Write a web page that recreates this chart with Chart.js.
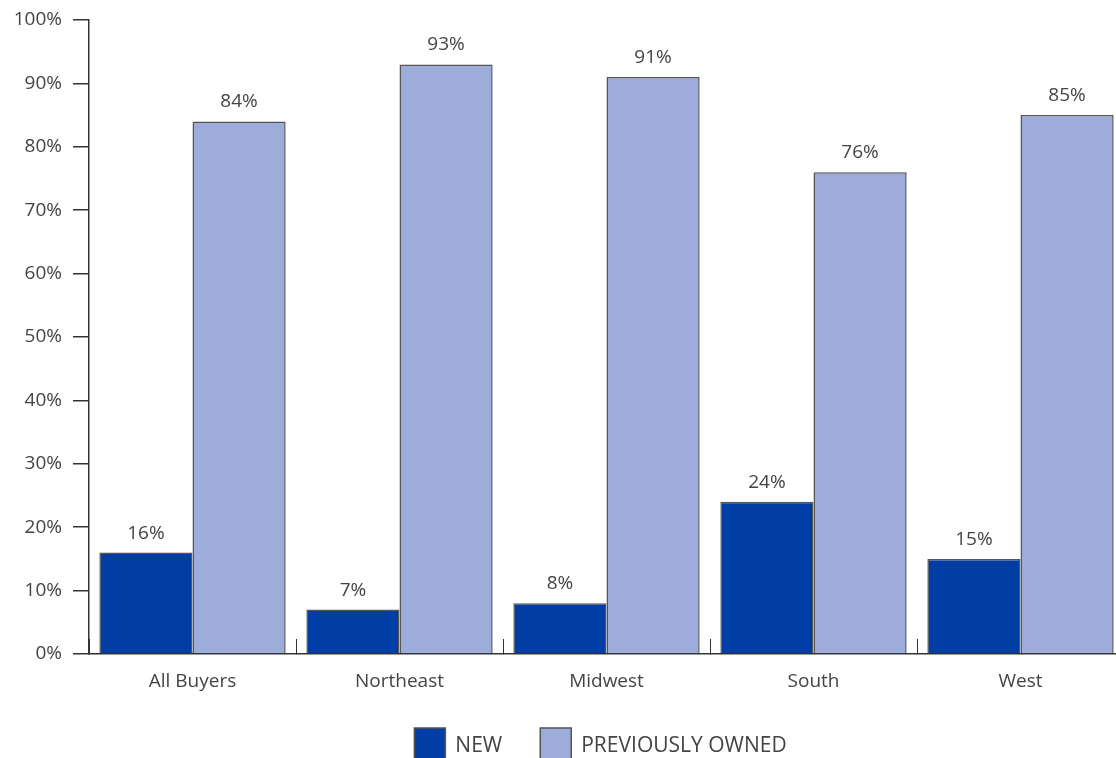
<!DOCTYPE html>
<html>
<head>
<meta charset="utf-8">
<title>New vs previously owned homes by region</title>
<script src="https://cdn.jsdelivr.net/npm/chart.js@4/dist/chart.umd.min.js"></script>
<style>
    html, body { margin: 0; padding: 0; background: #fff; overflow: hidden; }
    #wrap { width: 1130px; height: 758px; }
</style>
</head>
<body>
<div id="wrap"><canvas id="homes" width="1130" height="758"></canvas></div>
<script>
// --- Datos ---
const regions = ['All Buyers', 'Northeast', 'Midwest', 'South', 'West'];
const newHomes = [16, 7, 8, 24, 15];
const previouslyOwned = [84, 93, 91, 76, 85];
const yTicks = [0, 10, 20, 30, 40, 50, 60, 70, 80, 90, 100];

const FONT = '"Open Sans", "DejaVu Sans", sans-serif';
const TEXT = '#444';
const EDGE = '#555';

// etiquetas de valor encima de cada barra
const valueLabels = {
    id: 'valueLabels',
    afterDatasetsDraw(chart) {
        const ctx = chart.ctx;
        ctx.save();
        ctx.font = '19px ' + FONT;
        ctx.fillStyle = TEXT;
        ctx.textAlign = 'center';
        ctx.textBaseline = 'alphabetic';
        chart.data.datasets.forEach((ds, i) => {
            chart.getDatasetMeta(i).data.forEach((bar, j) => {
                ctx.fillText(ds.data[j] + '%', bar.x, bar.y - 14);
            });
        });
        ctx.restore();
    }
};

// leyenda abajo, centrada en el área del gráfico
const bottomLegend = {
    id: 'bottomLegend',
    afterDraw(chart) {
        const ctx = chart.ctx;
        const box = 31, gapText = 10, gapItem = 38, top = 728;
        ctx.save();
        ctx.font = '21px ' + FONT;
        const items = chart.data.datasets.map(ds => ({
            ds, w: box + gapText + ctx.measureText(ds.label).width
        }));
        const total = items.reduce((s, it) => s + it.w, 0) + gapItem * (items.length - 1);
        let x = (chart.chartArea.left + chart.chartArea.right) / 2 - total / 2 - 6;
        items.forEach(it => {
            ctx.fillStyle = it.ds.backgroundColor;
            ctx.fillRect(x, top, box, box);
            ctx.strokeStyle = EDGE;
            ctx.lineWidth = 1.5;
            ctx.strokeRect(x, top, box, box);
            ctx.fillStyle = TEXT;
            ctx.textBaseline = 'alphabetic';
            ctx.textAlign = 'left';
            ctx.fillText(it.ds.label, x + box + gapText, 752);
            x += it.w + gapItem;
        });
        ctx.restore();
    }
};

new Chart(document.getElementById('homes'), {
    type: 'bar',
    data: {
        labels: regions,
        datasets: [
            {
                label: 'NEW',
                data: newHomes,
                backgroundColor: '#003DA5',
                borderColor: EDGE,
                borderWidth: 1.5,
                borderSkipped: 'bottom'
            },
            {
                label: 'PREVIOUSLY OWNED',
                data: previouslyOwned,
                backgroundColor: '#9DACDB',
                borderColor: EDGE,
                borderWidth: 1.5,
                borderSkipped: 'bottom'
            }
        ]
    },
    options: {
        responsive: false,
        animation: false,
        layout: { padding: { top: 20, right: 6 } },
        datasets: {
            bar: { categoryPercentage: 0.9, barPercentage: 1 }
        },
        plugins: {
            legend: { display: false },
            tooltip: { enabled: false }
        },
        scales: {
            x: {
                offset: true,
                grid: {
                    offset: true,
                    drawOnChartArea: false,
                    tickLength: -15,
                    color: '#333',
                    lineWidth: 1
                },
                border: { color: '#333', width: 1.5 },
                ticks: {
                    padding: 31,
                    color: TEXT,
                    font: { family: FONT, size: 19 }
                },
                afterFit(scale) { scale.height = 104; }
            },
            y: {
                min: 0,
                max: 100,
                afterBuildTicks(scale) {
                    scale.ticks = yTicks.map(v => ({ value: v }));
                },
                grid: {
                    drawOnChartArea: false,
                    tickLength: 16,
                    color: '#333',
                    lineWidth: 1.5
                },
                border: { color: '#333', width: 1.5 },
                ticks: {
                    padding: 11,
                    color: TEXT,
                    font: { family: FONT, size: 19 },
                    callback: v => v + '%'
                },
                afterFit(scale) {
                    scale.width = 89;
                    scale.paddingTop = 0;
                    scale.paddingBottom = 0;
                }
            }
        }
    },
    plugins: [valueLabels, bottomLegend]
});
</script>
</body>
</html>
